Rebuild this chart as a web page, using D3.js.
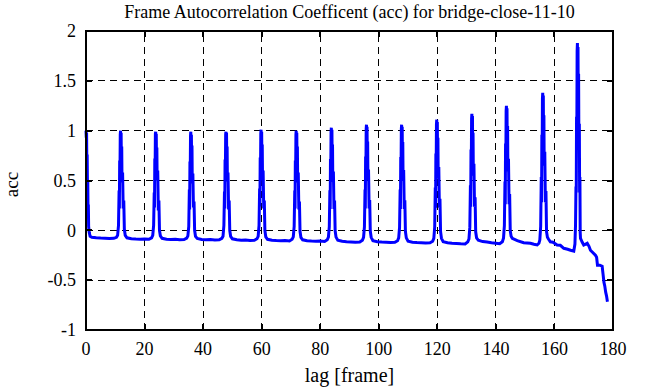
<!DOCTYPE html>
<html lang="en">
<head>
  <meta charset="UTF-8">
  <title>Frame Autocorrelation Coefficent</title>
  <script src="https://d3js.org/d3.v7.min.js"></script>
  <style>
    body { margin: 0; background: #fff; }
    svg { display: block; }
    text { font-family: "Liberation Serif", "DejaVu Serif", serif; fill: #000; }
  </style>
</head>
<body>
  <svg id="svg" width="666" height="387"></svg>
  <script>
    var chartTitle = "Frame Autocorrelation Coefficent (acc) for bridge-close-11-10";
    var xLabel = "lag [frame]";
    var yLabel = "acc";
    var xTicks = [0, 20, 40, 60, 80, 100, 120, 140, 160, 180];
    var yTicks = [-1, -0.5, 0, 0.5, 1, 1.5, 2];

    // [lag, acc]
    var accSeries = [
      [0, 1.0], [0.1, 0.93], [0.2, 0.98], [0.3, 0.62], [0.4, 0.76], [0.5, 0.44], [0.6, 0.5], [0.7, 0.18], [0.8, 0.26], [0.9, 0.04], [1.1, -0.02], [1.4, -0.06], [2, -0.07],
      [3.5, -0.075], [5, -0.078], [6.5, -0.08], [8, -0.082], [9.5, -0.08], [10.4, -0.07],
      [10.8, -0.05], [11.1, 0.05], [11.3, 0.4], [11.4, 0.22], [11.5, 0.7], [11.6, 0.55], [11.7, 0.96], [11.8, 1.0], [11.9, 0.72], [12, 0.98], [12.1, 0.58], [12.2, 0.84], [12.3, 0.48], [12.5, 0.58], [12.7, 0.22], [12.9, 0.3], [13.1, 0.01], [13.4, -0.05], [14, -0.075],
      [15.5, -0.085], [17, -0.088], [18.5, -0.09], [20, -0.087], [21.5, -0.09], [22.4, -0.075],
      [22.8, -0.05], [23.1, 0.05], [23.3, 0.38], [23.4, 0.23], [23.5, 0.72], [23.6, 0.56], [23.7, 0.97], [23.8, 0.99], [23.9, 0.7], [24, 0.97], [24.1, 0.6], [24.2, 0.83], [24.3, 0.5], [24.5, 0.6], [24.7, 0.2], [24.9, 0.3], [25.1, 0.0], [25.4, -0.055], [26, -0.08],
      [27.5, -0.09], [29, -0.093], [30.5, -0.09], [32, -0.095], [33.5, -0.092], [34.4, -0.078],
      [34.8, -0.055], [35.1, 0.04], [35.3, 0.41], [35.4, 0.21], [35.5, 0.69], [35.6, 0.57], [35.7, 0.95], [35.8, 0.99], [35.9, 0.73], [36, 0.96], [36.1, 0.57], [36.2, 0.85], [36.3, 0.47], [36.5, 0.57], [36.7, 0.23], [36.9, 0.29], [37.1, 0.0], [37.4, -0.06], [38, -0.082],
      [39.5, -0.092], [41, -0.095], [42.5, -0.093], [44, -0.097], [45.5, -0.095], [46.4, -0.08],
      [46.8, -0.06], [47.1, 0.05], [47.3, 0.39], [47.4, 0.22], [47.5, 0.71], [47.6, 0.54], [47.7, 0.96], [47.8, 0.99], [47.9, 0.71], [48, 0.98], [48.1, 0.59], [48.2, 0.84], [48.3, 0.49], [48.5, 0.58], [48.7, 0.21], [48.9, 0.3], [49.1, 0.0], [49.4, -0.06], [50, -0.085],
      [51.5, -0.095], [53, -0.1], [54.5, -0.098], [56, -0.102], [57.5, -0.1], [58.4, -0.085],
      [58.8, -0.06], [59.1, 0.05], [59.3, 0.42], [59.4, 0.24], [59.5, 0.73], [59.6, 0.58], [59.7, 0.97], [59.8, 1.01], [59.9, 0.72], [60, 0.99], [60.1, 0.6], [60.2, 0.86], [60.3, 0.5], [60.5, 0.6], [60.7, 0.22], [60.9, 0.3], [61.1, 0.0], [61.4, -0.065], [62, -0.09],
      [63.5, -0.1], [65, -0.103], [66.5, -0.105], [68, -0.103], [69.5, -0.107], [70.4, -0.09],
      [70.8, -0.065], [71.1, 0.04], [71.3, 0.4], [71.4, 0.22], [71.5, 0.7], [71.6, 0.55], [71.7, 0.96], [71.8, 1.0], [71.9, 0.72], [72, 0.98], [72.1, 0.58], [72.2, 0.84], [72.3, 0.48], [72.5, 0.58], [72.7, 0.21], [72.9, 0.29], [73.1, -0.01], [73.4, -0.07], [74, -0.095],
      [75.5, -0.105], [77, -0.108], [78.5, -0.11], [80, -0.108], [81.5, -0.112], [82.4, -0.095],
      [82.8, -0.068], [83.1, 0.036], [83.3, 0.403], [83.4, 0.214], [83.5, 0.716], [83.6, 0.559], [83.7, 0.988], [83.8, 1.03], [83.9, 0.737], [84, 1.01], [84.1, 0.591], [84.2, 0.862], [84.3, 0.486], [84.5, 0.591], [84.7, 0.214], [84.9, 0.298], [85.1, -0.005], [85.4, -0.068], [86, -0.1],
      [87.5, -0.11], [89, -0.115], [90.5, -0.117], [92, -0.12], [93.5, -0.118], [94.4, -0.1],
      [94.8, -0.07], [95.1, 0.035], [95.3, 0.41], [95.4, 0.22], [95.5, 0.74], [95.6, 0.575], [95.7, 1.02], [95.8, 1.06], [95.9, 0.76], [96, 1.04], [96.1, 0.61], [96.2, 0.89], [96.3, 0.5], [96.5, 0.61], [96.7, 0.22], [96.9, 0.305], [97.1, -0.007], [97.4, -0.07], [98, -0.105],
      [99.5, -0.115], [101, -0.118], [102.5, -0.12], [104, -0.122], [105.5, -0.12], [106.4, -0.105],
      [106.8, -0.076], [107.1, 0.03], [107.3, 0.41], [107.4, 0.215], [107.5, 0.735], [107.6, 0.573], [107.7, 1.016], [107.8, 1.06], [107.9, 0.757], [108, 1.039], [108.1, 0.606], [108.2, 0.887], [108.3, 0.497], [108.5, 0.606], [108.7, 0.215], [108.9, 0.302], [109.1, -0.011], [109.4, -0.076], [110, -0.11],
      [111.5, -0.12], [113, -0.123], [114.5, -0.125], [116, -0.128], [117.5, -0.125], [118.4, -0.11],
      [118.8, -0.08], [119.1, 0.033], [119.3, 0.43], [119.4, 0.226], [119.5, 0.77], [119.6, 0.6], [119.7, 1.064], [119.8, 1.11], [119.9, 0.793], [120, 1.088], [120.1, 0.634], [120.2, 0.928], [120.3, 0.521], [120.5, 0.634], [120.7, 0.226], [120.9, 0.317], [121.1, -0.011], [121.4, -0.08], [122, -0.115],
      [123.5, -0.125], [125, -0.13], [126.5, -0.132], [128, -0.135], [129.5, -0.137], [130.4, -0.115],
      [130.8, -0.087], [131.1, 0.032], [131.3, 0.452], [131.4, 0.236], [131.5, 0.811], [131.6, 0.631], [131.7, 1.122], [131.8, 1.17], [131.9, 0.835], [132, 1.146], [132.1, 0.668], [132.2, 0.978], [132.3, 0.548], [132.5, 0.668], [132.7, 0.236], [132.9, 0.332], [133.1, -0.015], [133.4, -0.075], [134, -0.1],
      [135.5, -0.113], [137, -0.118], [138.5, -0.125], [140, -0.13], [141.3, -0.135], [142.2, -0.115],
      [142.6, -0.079], [142.9, 0.047], [143.1, 0.491], [143.2, 0.262], [143.3, 0.871], [143.4, 0.68], [143.5, 1.199], [143.6, 1.25], [143.7, 0.895], [143.8, 1.225], [143.9, 0.719], [144, 1.047], [144.1, 0.592], [144.3, 0.719], [144.5, 0.262], [144.7, 0.364], [144.9, -0.003], [145.2, -0.06], [145.6, -0.08],
      [147.3, -0.104], [149.5, -0.124], [151.8, -0.13], [153, -0.14], [154.1, -0.147], [154.7, -0.13],
      [155, -0.098], [155.3, 0.041], [155.5, 0.536], [155.6, 0.281], [155.7, 0.958], [155.8, 0.746], [155.9, 1.323], [156, 1.38], [156.1, 0.985], [156.2, 1.352], [156.3, 0.789], [156.4, 1.154], [156.5, 0.648], [156.7, 0.789], [156.9, 0.281], [157.1, 0.395], [157.3, -0.014], [157.6, -0.07], [158, -0.09],
      [158.6, -0.115], [159.5, -0.12], [160.9, -0.147], [162, -0.15], [163.2, -0.18], [164.5, -0.19], [165.5, -0.2], [166.6, -0.208],
      [167, -0.137], [167.2, 0.053], [167.35, 0.44], [167.45, 0.38], [167.55, 1.14], [167.65, 1.015], [167.75, 1.8], [167.85, 1.88], [167.95, 1.342], [168.05, 1.84], [168.15, 1.07], [168.25, 1.572], [168.35, 0.881], [168.5, 1.07], [168.6, 0.38], [168.7, 0.535], [168.8, -0.022], [168.9, -0.08],
      [169.5, -0.12], [170, -0.147], [170.5, -0.14], [171.2, -0.13], [171.8, -0.16], [172.3, -0.2], [173, -0.22], [174, -0.25], [174.4, -0.27], [174.7, -0.35], [175.5, -0.35], [176.3, -0.36], [176.6, -0.44], [176.9, -0.52], [177.2, -0.56], [177.5, -0.62], [177.8, -0.66], [178.1, -0.716]
    ];

    var svg = d3.select("svg"),
      margin = { top: 31, right: 53, bottom: 57, left: 86 },
      width = +svg.attr("width"),
      height = +svg.attr("height");

    var x = d3.scaleLinear()
      .domain([0, 180])
      .range([margin.left, width - margin.right]);

    var y = d3.scaleLinear()
      .domain([-1, 2])
      .range([height - margin.bottom, margin.top]);

    var x0 = x.range()[0], x1 = x.range()[1],
      y0 = y.range()[0], y1 = y.range()[1];

    // dashed grid
    var grid = svg.append("g")
      .attr("stroke", "#000")
      .attr("stroke-width", 1)
      .attr("stroke-dasharray", "7,5")
      .attr("shape-rendering", "crispEdges");

    grid.selectAll(".gx")
      .data(xTicks.slice(1, -1))
      .enter().append("line")
      .attr("x1", function (d) { return x(d); })
      .attr("x2", function (d) { return x(d); })
      .attr("y1", y0)
      .attr("y2", y1);

    grid.selectAll(".gy")
      .data(yTicks.slice(1, -1))
      .enter().append("line")
      .attr("y1", function (d) { return y(d); })
      .attr("y2", function (d) { return y(d); })
      .attr("x1", x0)
      .attr("x2", x1);

    // the series
    var line = d3.line()
      .x(function (d) { return x(d[0]); })
      .y(function (d) { return y(d[1]); });

    svg.append("path")
      .datum(accSeries)
      .attr("fill", "none")
      .attr("stroke", "#0000ff")
      .attr("stroke-width", 3)
      .attr("stroke-linejoin", "miter")
      .attr("d", line);

    // ticks, mirrored on all four sides
    var ticks = svg.append("g")
      .attr("stroke", "#000")
      .attr("stroke-width", 2)
      .attr("shape-rendering", "crispEdges");

    xTicks.forEach(function (d) {
      ticks.append("line").attr("x1", x(d)).attr("x2", x(d)).attr("y1", y0).attr("y2", y0 - 6);
      ticks.append("line").attr("x1", x(d)).attr("x2", x(d)).attr("y1", y1).attr("y2", y1 + 6);
    });
    yTicks.forEach(function (d) {
      ticks.append("line").attr("y1", y(d)).attr("y2", y(d)).attr("x1", x0).attr("x2", x0 + 6);
      ticks.append("line").attr("y1", y(d)).attr("y2", y(d)).attr("x1", x1).attr("x2", x1 - 6);
    });

    // border
    svg.append("rect")
      .attr("x", x0)
      .attr("y", y1)
      .attr("width", x1 - x0)
      .attr("height", y0 - y1)
      .attr("fill", "none")
      .attr("stroke", "#000")
      .attr("stroke-width", 2)
      .attr("shape-rendering", "crispEdges");

    // tick labels
    svg.append("g")
      .attr("font-size", 18)
      .attr("text-anchor", "middle")
      .selectAll("text")
      .data(xTicks)
      .enter().append("text")
      .attr("x", function (d) { return x(d); })
      .attr("y", y0 + 25)
      .text(function (d) { return d; });

    svg.append("g")
      .attr("font-size", 18)
      .attr("text-anchor", "end")
      .selectAll("text")
      .data(yTicks)
      .enter().append("text")
      .attr("x", x0 - 10)
      .attr("y", function (d) { return y(d); })
      .attr("dy", "0.35em")
      .text(function (d) { return d; });

    // titles
    svg.append("text")
      .attr("x", (x0 + x1) / 2)
      .attr("y", 18)
      .attr("text-anchor", "middle")
      .attr("font-size", 18)
      .text(chartTitle);

    svg.append("text")
      .attr("x", (x0 + x1) / 2)
      .attr("y", 382)
      .attr("text-anchor", "middle")
      .attr("font-size", 20)
      .text(xLabel);

    svg.append("text")
      .attr("transform", "translate(18," + ((y0 + y1) / 2 + 4) + ")rotate(-90)")
      .attr("text-anchor", "middle")
      .attr("font-size", 19)
      .text(yLabel);
  </script>
</body>
</html>
